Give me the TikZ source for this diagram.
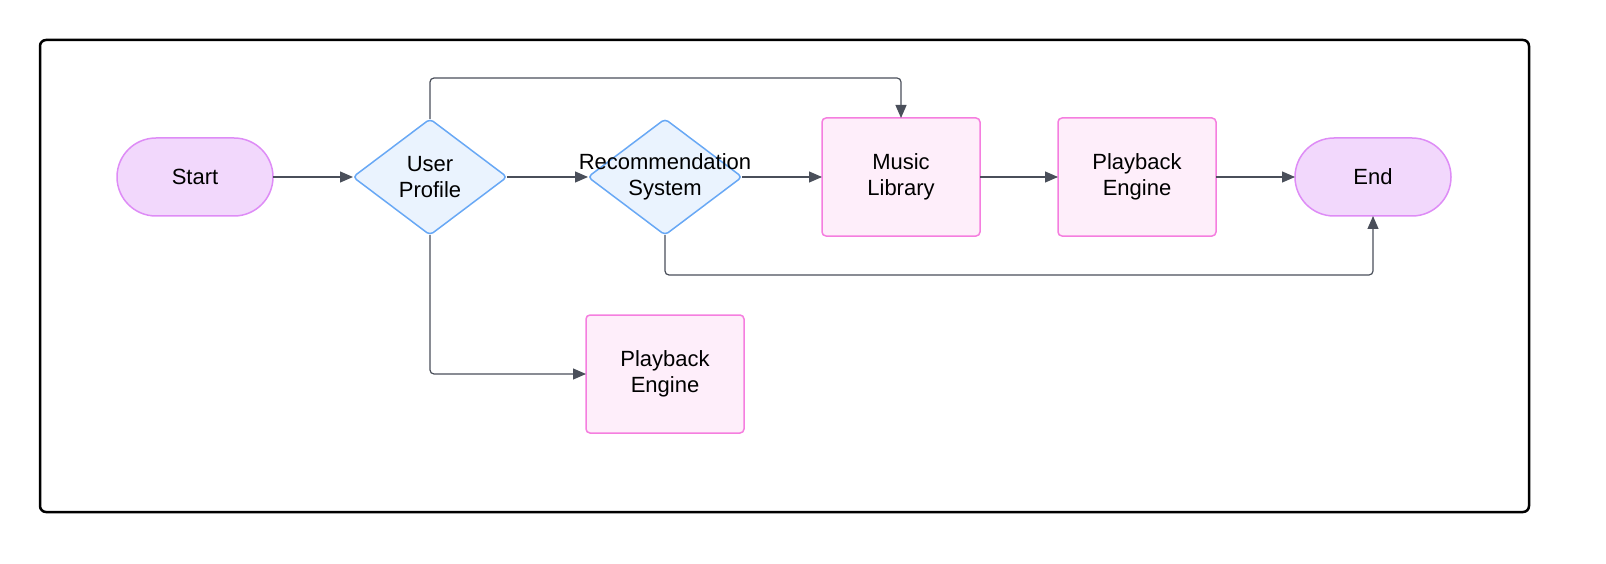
\documentclass[tikz,border=0pt]{standalone}
\usepackage{fontspec}
\setmainfont{Liberation Sans}
\usetikzlibrary{shapes.geometric}
\usetikzlibrary{arrows.meta}

\definecolor{termfill}{HTML}{F2D8FC}
\definecolor{termline}{HTML}{DE8CF6}
\definecolor{decfill}{HTML}{EAF3FE}
\definecolor{decline}{HTML}{68A8F5}
\definecolor{procfill}{HTML}{FEEEFA}
\definecolor{procline}{HTML}{F57EDF}
\definecolor{wire}{HTML}{4A4F5A}

\begin{document}
\begin{tikzpicture}[x=1pt,y=-1pt,
    every node/.style={font=\fontsize{22}{26}\selectfont,align=center,outer sep=0pt},
    term/.style={rectangle,draw=termline,fill=termfill,line width=1.5pt,rounded corners=39pt,minimum width=156pt,minimum height=78pt},
    decision/.style={diamond,draw=decline,fill=decfill,line width=1.5pt,rounded corners=4pt,inner sep=0pt,minimum width=154pt,minimum height=116pt},
    proc/.style={rectangle,draw=procline,fill=procfill,line width=1.5pt,rounded corners=4pt,minimum width=158pt,minimum height=118pt},
    link/.style={draw=wire,line width=1.2pt,rounded corners=4pt,-{Triangle[length=13pt,width=11pt]}}]

            %\draw [help lines] (0,0) grid (1606,564);
            \useasboundingbox (0,0) rectangle (1606,564);
            \draw[line width=2.5pt,rounded corners=6pt] (40,40) rectangle (1529,512);

            \path   (195,177)  node (start) [term] {Start}
                    (430,177)  node (user) [decision,label={[align=center]center:User\\Profile}] {}
                    (665,177)  node (recsys) [decision,label={[align=center]center:Recommendation\\System}] {}
                    (901,177)  node (library) [proc] {Music\\Library}
                    (1137,177) node (engine) [proc] {Playback\\Engine}
                    (1373,177) node (end) [term] {End}
                    (665,374)  node (engine2) [proc] {Playback\\Engine};

            \coordinate (upper) at (0,78);
            \coordinate (lower) at (0,275);

            \draw[link] (start) -- (user);
            \draw[link] (user) -- (recsys);
            \draw[link] (recsys) -- (library);
            \draw[link] (library) -- (engine);
            \draw[link] (engine) -- (end);
            \draw[link] (user.north) -- (user.north |- upper) -| (library.north);
            \draw[link] (recsys.south) -- (recsys.south |- lower) -| (end.south);
            \draw[link] (user.south) |- (engine2.west);
        \end{tikzpicture}
\end{document}
